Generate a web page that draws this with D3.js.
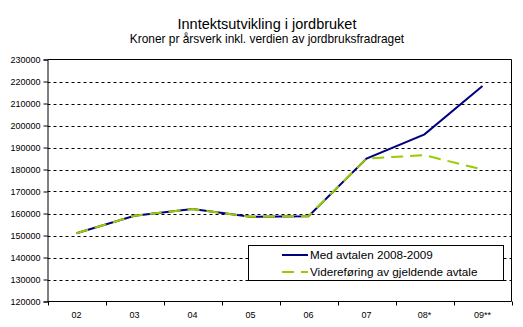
<!DOCTYPE html>
<html><head><meta charset="utf-8">
<script src="https://cdn.jsdelivr.net/npm/d3@7"></script>
<style>
body{margin:0;background:#fff;}
svg{display:block;font-family:"Liberation Sans",Arial,sans-serif;}
</style></head>
<body><svg id="c" width="523" height="327"></svg>
<script>
const categories = ["02","03","04","05","06","07","08*","09**"];
const medAvtalen = [151000,159000,162000,158500,158800,185000,196000,218000];
const videreforing = [151000,159000,162000,158500,158800,185000,186500,180000];
const yTicks = [120000,130000,140000,150000,160000,170000,180000,190000,200000,210000,220000,230000];
const seriesNames = ["Med avtalen 2008-2009","Videreføring av gjeldende avtale"];

const svg = d3.select("#c");
const L=47.5, R=511.5, T=59.5, B=301.5;
const x = d3.scaleBand().domain(categories).range([L,R]);
const y = d3.scaleLinear().domain([120000,230000]).range([B,T]);

svg.append("text").attr("x",267).attr("y",29).attr("text-anchor","middle")
  .attr("font-size",14.5).attr("fill","#000").text("Inntektsutvikling i jordbruket");
svg.append("text").attr("x",267).attr("y",43).attr("text-anchor","middle")
  .attr("font-size",11.9).attr("fill","#000").text("Kroner pr årsverk inkl. verdien av jordbruksfradraget");

// gridlines
svg.append("g").selectAll("line").data(yTicks.filter(v=>v>120000&&v<230000)).join("line")
  .attr("x1",L).attr("x2",R).attr("y1",d=>Math.round(y(d))+0.5).attr("y2",d=>Math.round(y(d))+0.5)
  .attr("stroke","#000").attr("stroke-width",1).attr("stroke-dasharray","3,3");
// top and right border
svg.append("line").attr("x1",L).attr("x2",R).attr("y1",T).attr("y2",T).attr("stroke","#000");
svg.append("line").attr("x1",R).attr("x2",R).attr("y1",T).attr("y2",B).attr("stroke","#000");

// y axis
const yAxis = d3.axisLeft(y).tickValues(yTicks).tickSize(4).tickPadding(3).tickFormat(d3.format("d"));
const gy = svg.append("g").attr("transform",`translate(${L},0)`).call(yAxis);
gy.select(".domain").attr("stroke","#000");
gy.selectAll("text").attr("font-size",9).attr("font-family","Liberation Sans, Arial, sans-serif").attr("fill","#000");

// x axis: ticks between categories
const gx = svg.append("g").attr("transform",`translate(0,${B})`);
gx.append("line").attr("x1",L).attr("x2",R).attr("stroke","#000");
const bounds = categories.map(c=>x(c)+x.bandwidth()).concat([L]);
gx.selectAll("line.t").data(bounds).join("line").attr("class","t")
  .attr("x1",d=>Math.round(d)+0.5).attr("x2",d=>Math.round(d)+0.5).attr("y1",0).attr("y2",4).attr("stroke","#000");
gx.selectAll("text").data(categories).join("text")
  .attr("x",d=>x(d)+x.bandwidth()/2).attr("y",16).attr("text-anchor","middle")
  .attr("font-size",9).attr("fill","#000").text(d=>d);

const line = d3.line().x((d,i)=>x(categories[i])+x.bandwidth()/2).y(d=>y(d));
svg.append("path").datum(medAvtalen).attr("d",line).attr("fill","none")
  .attr("stroke","#000080").attr("stroke-width",2);
svg.append("path").datum(videreforing).attr("d",line).attr("fill","none")
  .attr("stroke","#99CC00").attr("stroke-width",2).attr("stroke-dasharray","12,7");

// legend
const lg = svg.append("g");
lg.append("rect").attr("x",248.5).attr("y",245.5).attr("width",255).attr("height",35)
  .attr("fill","#fff").attr("stroke","#000");
lg.append("line").attr("x1",282).attr("x2",308).attr("y1",255).attr("y2",255)
  .attr("stroke","#000080").attr("stroke-width",2);
lg.append("line").attr("x1",282).attr("x2",308).attr("y1",272).attr("y2",272)
  .attr("stroke","#99CC00").attr("stroke-width",2).attr("stroke-dasharray","12,7");
lg.selectAll("text").data(seriesNames).join("text")
  .attr("x",310).attr("y",(d,i)=>259+i*17).attr("font-size",11.7).attr("fill","#000").text(d=>d);
</script></body></html>
